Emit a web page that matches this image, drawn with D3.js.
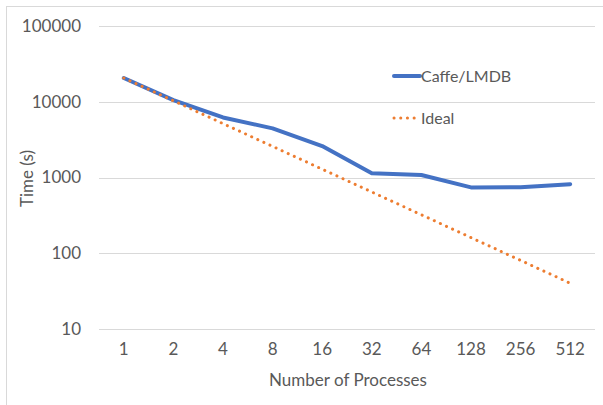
<!DOCTYPE html>
<html>
<head>
<meta charset="utf-8">
<script src="https://cdn.jsdelivr.net/npm/d3@7"></script>
<style>
  html, body { margin: 0; padding: 0; background: #fff; }
  svg text { font-family: Lato, "Open Sans", sans-serif; fill: #595959; }
</style>
</head>
<body>
<svg id="chart" width="603" height="405"></svg>
<script>
// Processes used on each run
const processes = ["1", "2", "4", "8", "16", "32", "64", "128", "256", "512"];
// Measured wall time (s) for Caffe/LMDB
const caffeTimes = [20600, 10500, 6200, 4450, 2600, 1140, 1080, 740, 745, 815];
// Perfect scaling from the single-process time
const idealTimes = [20600, 10300, 5150, 2575, 1288, 644, 322, 161, 80.5, 40.2];
// Y axis ticks
const yTicks = [10, 100, 1000, 10000, 100000];

const svg = d3.select("#chart");
const W = 603, H = 405;
const m = { left: 99, right: 8, top: 26, bottom: 76 };
const font = "Lato, 'Open Sans', sans-serif";

// outer chart frame
svg.append("rect")
  .attr("x", 6.5).attr("y", 6.5)
  .attr("width", 610).attr("height", 410)
  .attr("fill", "none").attr("stroke", "#d9d9d9").attr("stroke-width", 1);

const x = d3.scaleBand().domain(processes).range([m.left, W - m.right]);
const y = d3.scaleLog().domain([10, 100000]).range([H - m.bottom, m.top]);

// horizontal gridlines
svg.append("g").selectAll("line").data(yTicks).join("line")
  .attr("x1", m.left).attr("x2", W - m.right)
  .attr("y1", d => Math.round(y(d)) + 0.5).attr("y2", d => Math.round(y(d)) + 0.5)
  .attr("stroke", "#d9d9d9").attr("stroke-width", 1);

// y axis labels
const yAxis = d3.axisLeft(y).tickValues(yTicks).tickFormat(d3.format("d")).tickSize(0).tickPadding(18);
svg.append("g").attr("transform", `translate(${m.left},0)`).call(yAxis)
  .call(g => g.select(".domain").remove())
  .selectAll("text").attr("font-size", 17).style("fill", "#595959").style("font-family", font);

// x axis labels
const xAxis = d3.axisBottom(x).tickSize(0).tickPadding(14);
svg.append("g").attr("transform", `translate(0,${H - m.bottom})`).call(xAxis)
  .call(g => g.select(".domain").remove())
  .selectAll("text").attr("font-size", 17).style("fill", "#595959").style("font-family", font);

// axis titles
svg.append("text")
  .attr("x", (m.left + W - m.right) / 2 + 1).attr("y", 386)
  .attr("text-anchor", "middle").attr("font-size", 17)
  .text("Number of Processes");
svg.append("text")
  .attr("transform", `translate(33,${(m.top + H - m.bottom) / 2 + 1}) rotate(-90)`)
  .attr("text-anchor", "middle").attr("font-size", 17)
  .text("Time (s)");

const line = d3.line()
  .x((d, i) => x(processes[i]) + x.bandwidth() / 2)
  .y(d => y(d));

// Caffe/LMDB measured
svg.append("path").datum(caffeTimes)
  .attr("d", line).attr("fill", "none")
  .attr("stroke", "#4472c4").attr("stroke-width", 4)
  .attr("stroke-linejoin", "round").attr("stroke-linecap", "round");

// Ideal scaling: round dotted line, drawn on top
svg.append("path").datum(idealTimes)
  .attr("d", line).attr("fill", "none")
  .attr("stroke", "#ed7d31").attr("stroke-width", 3)
  .attr("stroke-linecap", "round").attr("stroke-dasharray", "0.1 6.6");

// legend
const legend = svg.append("g");
legend.append("line").attr("x1", 394).attr("x2", 420).attr("y1", 76).attr("y2", 76)
  .attr("stroke", "#4472c4").attr("stroke-width", 4).attr("stroke-linecap", "round");
legend.append("text").attr("x", 421).attr("y", 82).attr("font-size", 16).text("Caffe/LMDB");
legend.append("line").attr("x1", 394).attr("x2", 420).attr("y1", 118).attr("y2", 118)
  .attr("stroke", "#ed7d31").attr("stroke-width", 3)
  .attr("stroke-linecap", "round").attr("stroke-dasharray", "0.1 6.6");
legend.append("text").attr("x", 421).attr("y", 124).attr("font-size", 16).text("Ideal");
</script>
</body>
</html>
